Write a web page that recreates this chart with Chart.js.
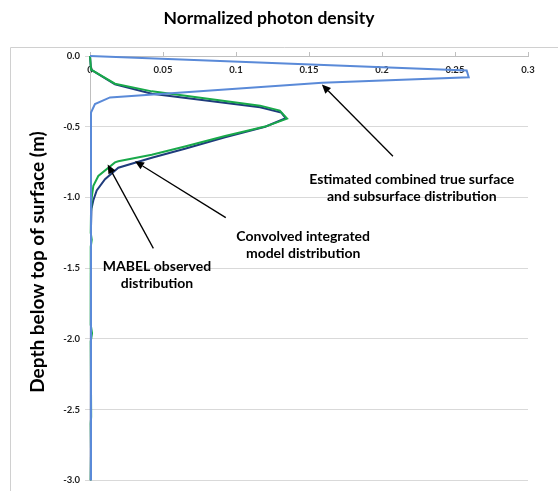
<!DOCTYPE html>
<html>
<head>
<meta charset="utf-8">
<script src="https://cdn.jsdelivr.net/npm/chart.js@4/dist/chart.umd.min.js"></script>
<style>
  html, body { margin: 0; padding: 0; background: #fff; }
  #wrap { width: 558px; height: 491px; position: relative; }
</style>
</head>
<body>
<div id="wrap"><canvas id="c" width="558" height="491"></canvas></div>
<script>
// ---- Data ----
const chartTitle = 'Normalized photon density';
const yAxisTitle = 'Depth below top of surface (m)';

const xTickValues = [0, 0.05, 0.1, 0.15, 0.2, 0.25, 0.3];
const xTickLabels = ['0', '0.05', '0.1', '0.15', '0.2', '0.25', '0.3'];
const yTickValues = [0, -0.5, -1.0, -1.5, -2.0, -2.5, -3.0];
const yTickLabels = ['0.0', '-0.5', '-1.0', '-1.5', '-2.0', '-2.5', '-3.0'];

// Estimated combined true surface and subsurface distribution
const estimatedDensity = [0, 0.258, 0.2594, 0.159, 0.0137, 0.0034, 0.0007, 0.0007];
const estimatedDepth   = [0, -0.102, -0.150, -0.19, -0.293, -0.34, -0.40, -3.0];

// Convolved integrated model distribution
const modelDensity = [0, 0.0007, 0.0171, 0.0424, 0.1165, 0.131, 0.134, 0.12, 0.0925, 0.065, 0.0423, 0.0194, 0.0103, 0.0046, 0.0023, 0.001, 0.0007, 0.0005];
const modelDepth   = [0, -0.097, -0.201, -0.267, -0.362, -0.40, -0.44, -0.50, -0.575, -0.656, -0.72, -0.79, -0.871, -0.951, -1.02, -1.08, -1.2, -3.0];

// MABEL observed distribution
const mabelDensity = [0, 0.0007, 0.0171, 0.0424, 0.1165, 0.130, 0.135, 0.12, 0.0925, 0.065, 0.0423, 0.0194, 0.0171, 0.0057, 0.0023, 0.0012, 0.0007, 0.0005, 0.0012, 0.0005, 0.0005, 0.0014, 0.0005, 0.0008, 0.0005, 0.0007, 0.0005];
const mabelDepth   = [0, -0.097, -0.196, -0.25, -0.351, -0.386, -0.443, -0.499, -0.565, -0.64, -0.698, -0.744, -0.752, -0.848, -0.917, -1.0, -1.1, -1.25, -1.3, -1.35, -1.9, -1.96, -2.02, -2.55, -2.6, -2.8, -3.0];

// Annotation texts
const annotationTexts = [
  ['Estimated combined true surface', 'and subsurface distribution'],
  ['Convolved integrated', 'model distribution'],
  ['MABEL observed', 'distribution']
];
// Annotation anchors in data units (density, depth)
const annotationTextAnchors = [[0.2204, -0.871], [0.146, -1.275], [0.0459, -1.49]];
const annotationArrowTails  = [[0.2075, -0.709], [0.093, -1.143], [0.0434, -1.360]];
const annotationArrowHeads  = [[0.1588, -0.201], [0.0308, -0.744], [0.0121, -0.767]];

function toPoints(xs, ys) { return xs.map((x, i) => ({ x: x, y: ys[i] })); }

const FONT = 'Lato, Calibri, "Liberation Sans", sans-serif';

const framePlugin = {
  id: 'frame',
  beforeDraw(chart) {
    const ctx = chart.ctx;
    ctx.save();
    ctx.strokeStyle = '#d0d0d0';
    ctx.lineWidth = 1;
    ctx.beginPath();
    ctx.moveTo(10.5, 491);
    ctx.lineTo(10.5, 47.5);
    ctx.lineTo(558, 47.5);
    ctx.stroke();
    ctx.restore();
  }
};

const textPlugin = {
  id: 'texts',
  afterDatasetsDraw(chart) {
    const ctx = chart.ctx;
    const xs = chart.scales.x, ys = chart.scales.y;
    ctx.save();
    // y axis title
    ctx.fillStyle = '#000';
    ctx.font = 'bold 19px ' + FONT;
    ctx.textAlign = 'center';
    ctx.textBaseline = 'middle';
    ctx.translate(38, 262);
    ctx.rotate(-Math.PI / 2);
    ctx.fillText(yAxisTitle, 0, 0);
    ctx.restore();

    ctx.save();
    // arrows
    ctx.strokeStyle = '#000';
    ctx.fillStyle = '#000';
    ctx.lineWidth = 1.3;
    annotationArrowTails.forEach((t, i) => {
      const h = annotationArrowHeads[i];
      const x1 = xs.getPixelForValue(t[0]), y1 = ys.getPixelForValue(t[1]);
      const x2 = xs.getPixelForValue(h[0]), y2 = ys.getPixelForValue(h[1]);
      const ang = Math.atan2(y2 - y1, x2 - x1);
      const L = 9, W = 4;
      const bx = x2 - L * Math.cos(ang), by = y2 - L * Math.sin(ang);
      ctx.beginPath();
      ctx.moveTo(x1, y1);
      ctx.lineTo(bx, by);
      ctx.stroke();
      ctx.beginPath();
      ctx.moveTo(x2, y2);
      ctx.lineTo(bx + W * Math.sin(ang), by - W * Math.cos(ang));
      ctx.lineTo(bx - W * Math.sin(ang), by + W * Math.cos(ang));
      ctx.closePath();
      ctx.fill();
    });
    // texts
    ctx.font = 'bold 14px ' + FONT;
    ctx.textAlign = 'center';
    ctx.textBaseline = 'middle';
    annotationTexts.forEach((lines, i) => {
      const a = annotationTextAnchors[i];
      const x = xs.getPixelForValue(a[0]);
      const y = ys.getPixelForValue(a[1]);
      lines.forEach((ln, j) => ctx.fillText(ln, x, y + j * 17));
    });
    ctx.restore();
  }
};

new Chart(document.getElementById('c'), {
  type: 'scatter',
  data: {
    datasets: [
      {
        label: 'Estimated combined true surface and subsurface distribution',
        data: toPoints(estimatedDensity, estimatedDepth),
        showLine: true, borderColor: '#5a8ad8', borderWidth: 2,
        pointRadius: 0, tension: 0, clip: 6
      },
      {
        label: 'MABEL observed distribution',
        data: toPoints(mabelDensity, mabelDepth),
        showLine: true, borderColor: '#19a94a', borderWidth: 2,
        pointRadius: 0, tension: 0, clip: 6
      },
      {
        label: 'Convolved integrated model distribution',
        data: toPoints(modelDensity, modelDepth),
        showLine: true, borderColor: '#1f3c7c', borderWidth: 2,
        pointRadius: 0, tension: 0, clip: 6
      }
    ]
  },
  options: {
    responsive: false,
    animation: false,
    devicePixelRatio: 1,
    layout: { padding: { left: 10, right: 30, top: 0, bottom: 2 } },
    plugins: {
      legend: { display: false },
      tooltip: { enabled: false },
      title: {
        display: true,
        text: chartTitle,
        color: '#000',
        font: { family: FONT, size: 17.5, weight: 'bold' },
        padding: { top: 8, bottom: 18 }
      }
    },
    scales: {
      x: {
        type: 'linear',
        position: 'top',
        min: 0, max: 0.3,
        afterBuildTicks: (s) => { s.ticks = xTickValues.map(v => ({ value: v })); },
        afterFit: (s) => { s.height = 9; },
        grid: { drawOnChartArea: false, drawTicks: true, tickLength: 4, color: '#bfbfbf' },
        border: { display: true, color: '#bfbfbf', width: 1 },
        ticks: {
          mirror: true,
          padding: 8,
          maxRotation: 0,
          autoSkip: false,
          color: '#222',
          font: { family: FONT, size: 9.5, weight: 'bold' },
          callback: (v, i) => xTickLabels[i]
        }
      },
      y: {
        type: 'linear',
        position: 'left',
        min: -3, max: 0,
        afterBuildTicks: (s) => { s.ticks = yTickValues.map(v => ({ value: v })); },
        afterFit: (s) => { s.width = 80; },
        grid: { color: '#d9d9d9', drawTicks: true, tickLength: 5 },
        border: { display: true, color: '#bfbfbf', width: 1 },
        ticks: {
          padding: 5,
          autoSkip: false,
          color: '#222',
          font: { family: FONT, size: 9.5, weight: 'bold' },
          callback: (v, i) => yTickLabels[i]
        }
      }
    }
  },
  plugins: [framePlugin, textPlugin]
});
</script>
</body>
</html>
